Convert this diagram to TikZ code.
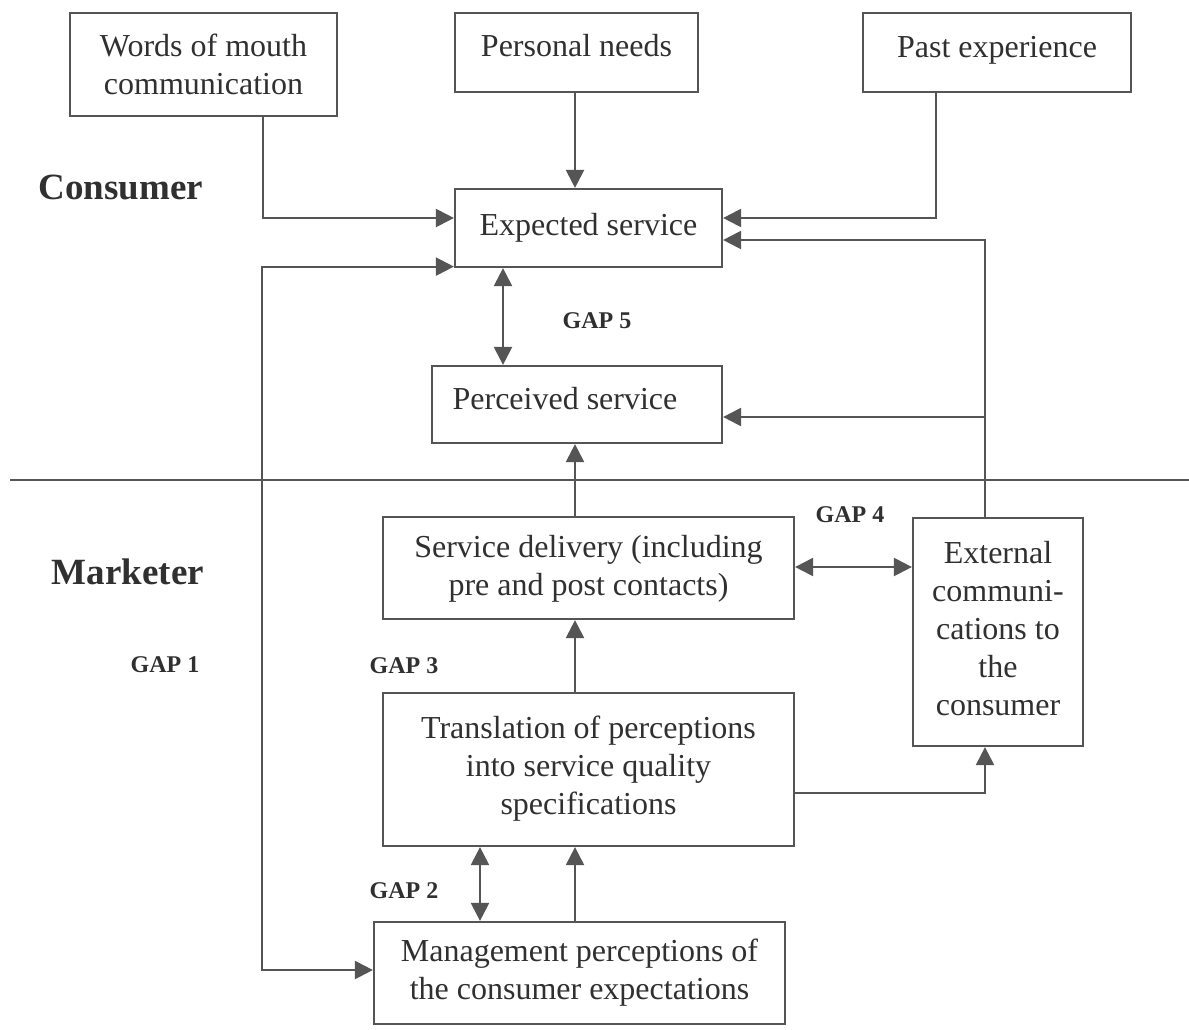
\documentclass[tikz,border=0pt]{standalone}
\usepackage{fontspec}
\setmainfont{Liberation Serif}
\usetikzlibrary{arrows.meta,calc}
\definecolor{linec}{HTML}{555555}
\definecolor{textc}{HTML}{303030}
\begin{document}
\begin{tikzpicture}[x=1pt,y=-1pt,
  box/.style={draw=linec, line width=2.2pt, align=center, text=textc,
    font=\fontsize{32}{38}\selectfont, inner sep=0pt},
  side/.style={text=textc, font=\fontsize{37}{40}\selectfont\bfseries},
  gap/.style={text=textc, font=\fontsize{24}{28}\selectfont\bfseries},
  arr/.style={draw=linec, line width=2.2pt, -{Triangle[length=18pt,width=18pt]}},
  dbl/.style={draw=linec, line width=2.2pt, {Triangle[length=18pt,width=18pt]}-{Triangle[length=18pt,width=18pt]}},
  plain/.style={draw=linec, line width=2.2pt}
]
\useasboundingbox (0,0) rectangle (1189,1029);
\fill[white] (0,0) rectangle (1189,1029);

% boxes
\node[box, minimum width=267pt, minimum height=103pt] (wom) at (203.5,64.5) {Words of mouth\\communication};
\node[box, minimum width=243pt, minimum height=79pt, text depth=14pt] (needs) at (576.5,52.5) {Personal needs};
\node[box, minimum width=268pt, minimum height=79pt, text depth=12pt] (past) at (997,52.5) {Past experience};
\node[box, minimum width=267pt, minimum height=78pt] (exp) at (588.5,228) {Expected service};
\node[box, minimum width=290pt, minimum height=77pt, text depth=12pt] (perc) at (577,404.5) {\hspace*{-24pt}Perceived service};
\node[box, minimum width=411pt, minimum height=102pt, text depth=6pt] (deliv) at (588.5,568) {Service delivery (including\\pre and post contacts)};
\node[box, minimum width=170pt, minimum height=228pt, text depth=8pt] (ext) at (998,632) {External\\communi-\\cations to\\the\\consumer};
\node[box, minimum width=411pt, minimum height=153pt, text depth=8pt] (trans) at (588.5,769.5) {Translation of perceptions\\into service quality\\specifications};
\node[box, minimum width=411pt, minimum height=102pt] (mgmt) at (579.5,973) {Management perceptions of\\the consumer expectations};

% side labels
\node[side] (cons) at (121,187) {Consumer};
\node[side] (mark) at (128,572) {Marketer};
\node[gap] (g5) at (597,321) {GAP 5};
\node[gap] (g4) at (850,515) {GAP 4};
\node[gap] (g1) at (165,665) {GAP 1};
\node[gap] (g3) at (404,666) {GAP 3};
\node[gap] (g2) at (404,891) {GAP 2};

% divider
\draw[plain] (10,480) -- (1189,480);

% connectors into expected service
\draw[arr] ($(wom.south)+(59.5,0)$) |- ($(exp.west)+(0,-10)$);
\coordinate (ndBot) at ($(needs.south)+(-1.5,0)$);
\draw[arr] (ndBot) -- (ndBot |- exp.north);
\draw[arr] ($(past.south)+(-61,0)$) |- ($(exp.east)+(0,-10)$);
\coordinate (extTop) at ($(ext.north)+(-13,0)$);
\draw[arr] (extTop) |- ($(exp.east)+(0,12)$);
\coordinate (percIn) at ($(perc.east)+(0,12.5)$);
\draw[arr] (percIn -| extTop) -- (percIn);

% gap 5
\coordinate (g5a) at ($(exp.south)+(-85.5,0)$);
\draw[dbl] (g5a) -- (g5a |- perc.north);

% delivery to perceived
\coordinate (delTop) at ($(deliv.north)+(-13.5,0)$);
\draw[arr] (delTop) -- (delTop |- perc.south);

% gap 4
\coordinate (delR) at ($(deliv.east)+(0,-1)$);
\draw[dbl] (delR) -- (delR -| ext.west);

% translation to delivery
\coordinate (trTop) at ($(trans.north)+(-13.5,0)$);
\draw[arr] (trTop) -- (trTop |- deliv.south);

% translation to external
\draw[arr] ($(trans.east)+(0,23.5)$) -| ($(ext.south)+(-13,0)$);

% gap 2
\coordinate (g2a) at ($(mgmt.north)+(-99.5,0)$);
\draw[dbl] (g2a) -- (g2a |- trans.south);
\coordinate (mgTop) at ($(mgmt.north)+(-4.5,0)$);
\draw[arr] (mgTop) -- (mgTop |- trans.south);

% gap 1
\draw[dbl] ($(exp.south west)+(0,-1.5)$) -- ++(-192,0) |- ($(mgmt.west)+(0,-3)$);
\end{tikzpicture}
\end{document}
